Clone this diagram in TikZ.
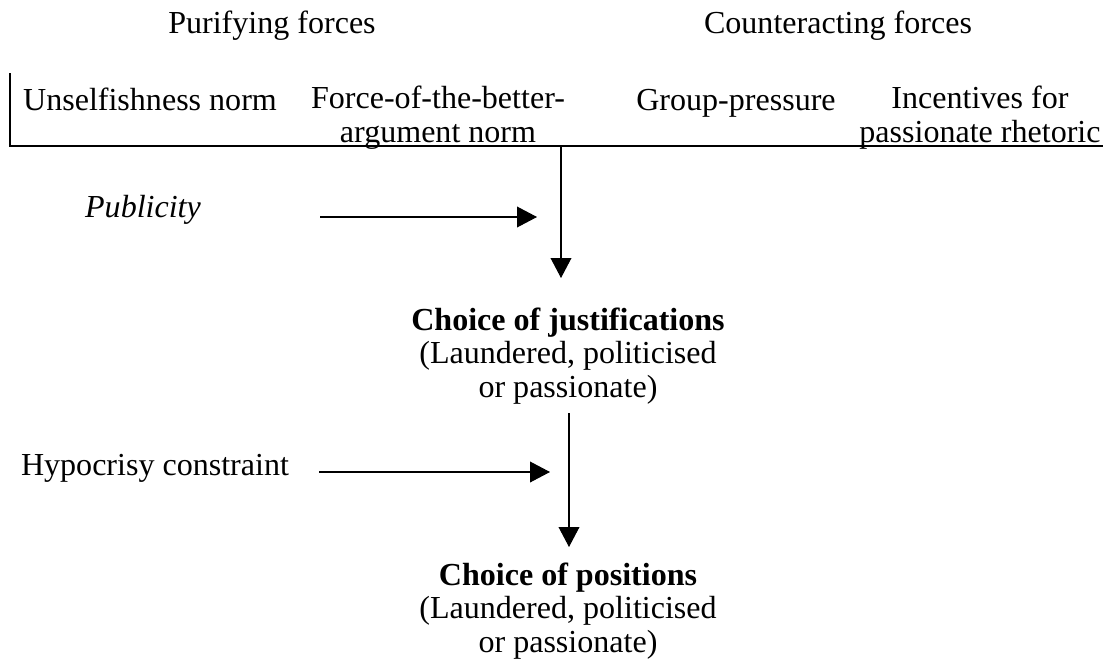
\documentclass[tikz,border=0pt]{standalone}
\usepackage{fontspec}
\setmainfont{Liberation Serif}
\usepackage{tikz}
\usetikzlibrary{arrows.meta, positioning, calc}

\tikzset{
  lbl/.style={font=\fontsize{22.8}{23.5}\selectfont, inner sep=0pt, anchor=base},
  choice/.style={lbl, align=center},
  link/.style={line width=0.75pt},
  push/.style={link, -{Triangle[length=0.5cm, width=0.52cm]}}
}

\begin{document}
\begin{tikzpicture}
\useasboundingbox (0,0) rectangle (27.675,-16.65);
% Headings
\node[lbl] (purif) at (6.8,-0.825) {Purifying forces};
\node[lbl] (counter) at (20.95,-0.825) {Counteracting forces};
% Forces (two-line nodes sit on their last line)
\node[lbl] (unself) at (3.75,-2.75) {Unselfishness norm};
\node[choice] (better) at (10.95,-3.55) {Force-of-the-better-\\argument norm};
\node[lbl] (group) at (18.4,-2.75) {Group-pressure};
\node[choice] (incent) at (24.5,-3.55) {Incentives for\\passionate rhetoric};
% Bracket under the forces
\coordinate (brtop) at (0.25,-1.825);
\coordinate (brleft) at (0.25,-3.65);
\coordinate (brright) at (27.575,-3.65);
\coordinate (split) at (14.025,-3.65);
\draw[link] (brtop) -- (brleft) -- (brright);
% Publicity
\node[lbl] (public) at (3.575,-5.425) {\itshape Publicity};
\coordinate (pubA) at (8,-5.425);
\coordinate (pubB) at (13.425,-5.425);
\coordinate (splittip) at (14.025,-6.95);
\draw[push] (pubA) -- (pubB);
\draw[push] (split) -- (splittip);
% Choice of justifications
\node[choice] (just) at (14.2,-9.925)
    {\textbf{Choice of justifications}\\(Laundered, politicised\\or passionate)};
% Hypocrisy constraint
\node[lbl] (hypo) at (3.875,-11.875) {Hypocrisy constraint};
\coordinate (hypA) at (7.975,-11.8);
\coordinate (hypB) at (13.75,-11.8);
\coordinate (justfoot) at (14.225,-10.325);
\coordinate (justtip) at (14.225,-13.675);
\draw[push] (hypA) -- (hypB);
\draw[push] (justfoot) -- (justtip);
% Choice of positions
\node[choice] (pos) at (14.2,-16.3)
    {\textbf{Choice of positions}\\(Laundered, politicised\\or passionate)};
\end{tikzpicture}
\end{document}
